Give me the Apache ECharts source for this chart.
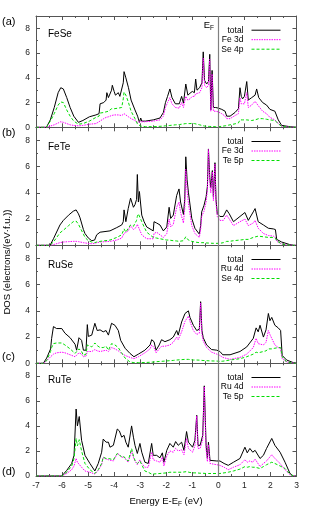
<!DOCTYPE html>
<html><head><meta charset="utf-8">
<script src="https://cdn.jsdelivr.net/npm/echarts@6/dist/echarts.min.js"></script>
<style>html,body{margin:0;padding:0;background:#fff}#c{width:314px;height:513px}</style>
</head><body><div id="c"></div>
<script>
const FONT = '"Liberation Sans", Arial, Helvetica, sans-serif';
const xTickLabels = [-7,-6,-5,-4,-3,-2,-1,0,1,2,3];
const yTickLabels = [0,2,4,6,8];
const panelNames = ['FeSe','FeTe','RuSe','RuTe'];
const panelLetters = ['(a)','(b)','(c)','(d)'];
const seriesNames = [['total','Fe 3d','Se 4p'],['total','Fe 3d','Te 5p'],['total','Ru 4d','Se 4p'],['total','Ru 4d','Te 5p']];

// (a) FeSe
const energyFeSe = [-7.0,-6.6,-6.45,-6.3,-6.15,-6.05,-5.95,-5.82,-5.69,-5.55,
 -5.37,-5.2,-4.95,-4.7,-4.58,-4.54,-4.4,-4.31,-4.28,-4.22,
 -4.1,-4.07,-4.0,-3.95,-3.84,-3.78,-3.71,-3.65,-3.62,-3.55,
 -3.45,-3.35,-3.2,-3.1,-3.03,-2.98,-2.94,-2.8,-2.5,-2.24,
 -2.11,-2.03,-1.95,-1.86,-1.78,-1.65,-1.5,-1.41,-1.34,-1.25,
 -1.17,-1.09,-1.0,-0.92,-0.87,-0.82,-0.72,-0.63,-0.58,-0.53,
 -0.45,-0.38,-0.33,-0.29,-0.24,-0.19,-0.1,0.0,0.13,0.26,
 0.32,0.45,0.64,0.77,0.83,0.88,0.93,1.0,1.09,1.15,
 1.28,1.41,1.47,1.55,1.7,1.85,1.98,2.17,2.3,2.43,
 2.75,3.0];
const totalFeSe = [0,0,0.6,1.6,2.8,3.2,3.1,2.4,1.6,0.9,
 0.4,0.55,0.85,1.0,1.1,1.9,2.0,2.2,2.8,2.4,
 3.0,3.4,2.9,2.6,2.8,2.5,2.5,3.6,4.5,4.0,
 3.2,2.2,1.4,0.9,0.4,0.75,0.5,0.5,0.6,0.75,
 1.2,2.0,2.5,3.1,2.4,1.9,1.9,2.5,1.95,3.5,
 2.6,2.75,2.9,2.8,3.9,3.0,3.2,3.6,6.1,3.8,
 3.5,3.7,5.9,1.4,4.6,1.6,1.6,1.55,1.45,1.3,
 0.9,0.9,1.2,1.5,3.2,2.5,2.3,2.5,3.7,2.2,
 2.4,2.6,3.1,2.4,2.0,1.8,1.45,1.3,0.6,0.15,
 0.05,0];
const fe3dFeSe = [0,0,0.1,0.2,0.35,0.45,0.4,0.3,0.2,0.15,
 0.12,0.15,0.25,0.3,0.45,0.6,0.7,0.8,0.9,0.85,
 0.95,1.0,1.0,0.95,1.0,0.95,0.95,1.05,1.1,1.0,
 0.85,0.7,0.55,0.4,0.3,0.45,0.4,0.45,0.5,0.6,
 0.9,1.6,2.0,2.4,1.9,1.6,1.55,2.0,1.6,2.5,
 2.2,2.3,2.5,2.5,2.7,2.7,2.8,3.2,5.6,3.4,
 3.2,3.4,5.5,1.3,4.3,1.3,1.3,1.25,1.1,0.9,
 0.7,0.7,0.95,1.1,2.4,1.9,1.8,1.9,2.8,1.6,
 1.8,2.1,2.2,1.7,1.3,1.1,0.8,0.6,0.3,0.08,
 0.02,0];
const se4pFeSe = [0,0,0.5,1.1,1.8,2.05,2.0,1.4,0.9,0.5,
 0.25,0.3,0.5,0.8,0.9,1.15,1.2,1.25,1.3,1.3,
 1.5,1.65,1.5,1.4,1.55,1.45,1.6,2.3,2.85,2.6,
 2.0,1.3,0.7,0.25,0.12,0.1,0.08,0.05,0.05,0.08,
 0.1,0.12,0.14,0.15,0.17,0.2,0.22,0.25,0.25,0.3,
 0.3,0.3,0.32,0.3,0.28,0.25,0.2,0.15,0.12,0.1,
 0.08,0.07,0.07,0.06,0.06,0.06,0.05,0.05,0.08,0.12,
 0.15,0.2,0.28,0.35,0.6,0.6,0.6,0.55,0.6,0.55,
 0.55,0.6,0.7,0.7,0.7,0.65,0.6,0.55,0.3,0.07,
 0.02,0];

// (b) FeTe
const energyFeTe = [-7.0,-6.46,-6.33,-6.08,-5.95,-5.75,-5.57,-5.46,-5.37,-5.31,
 -5.18,-5.12,-4.99,-4.86,-4.75,-4.67,-4.54,-4.16,-3.9,-3.71,
 -3.65,-3.62,-3.55,-3.46,-3.37,-3.26,-3.2,-3.14,-3.11,-3.07,
 -3.03,-2.94,-2.85,-2.75,-2.5,-2.47,-2.37,-2.24,-2.11,-1.98,
 -1.89,-1.83,-1.73,-1.6,-1.51,-1.45,-1.34,-1.29,-1.25,-1.2,
 -1.15,-1.02,-0.9,-0.73,-0.68,-0.64,-0.55,-0.47,-0.42,-0.38,
 -0.33,-0.29,-0.23,-0.19,-0.13,-0.09,-0.04,0.06,0.19,0.32,
 0.42,0.58,0.83,1.02,1.15,1.34,1.41,1.53,1.73,1.92,
 2.11,2.19,2.24,2.43,2.75,2.9,3.0];
const totalFeTe = [0,0,0.5,1.55,1.9,2.3,2.6,2.7,2.4,2.1,
 1.2,0.9,0.55,0.35,0.4,0.8,1.0,1.1,1.35,1.55,
 1.8,2.7,1.8,2.8,3.6,2.9,3.1,3.5,5.4,3.3,
 4.1,2.3,1.8,1.4,1.1,1.8,1.7,1.55,1.1,1.4,
 2.9,2.05,2.3,3.8,4.3,3.3,2.35,3.5,6.75,5.0,
 4.05,2.05,1.3,0.85,1.5,2.55,3.05,3.7,4.5,7.35,
 5.2,4.4,5.7,3.7,6.3,3.5,2.4,2.2,2.2,2.7,
 2.4,1.8,2.2,2.5,1.9,2.55,2.8,1.8,1.55,1.3,
 1.25,1.2,0.45,0.25,0.05,0,0];
const fe3dFeTe = [0,0,0.05,0.2,0.25,0.28,0.3,0.3,0.28,0.25,
 0.2,0.18,0.14,0.12,0.15,0.2,0.25,0.3,0.4,0.55,
 0.7,0.9,0.8,1.1,1.5,1.2,1.3,1.4,1.6,1.4,
 1.3,0.8,0.65,0.5,0.5,0.9,1.0,0.8,0.6,0.9,
 2.0,1.4,1.6,2.9,3.3,2.5,1.7,2.8,5.8,4.2,
 3.2,1.5,0.9,0.6,1.2,2.2,2.6,3.3,4.2,7.3,
 4.8,4.0,5.6,3.4,6.2,3.2,2.2,1.9,1.9,2.3,
 2.0,1.5,1.8,2.0,1.5,1.7,1.9,1.3,0.9,0.75,
 0.7,0.6,0.3,0.1,0.02,0,0];
const te5pFeTe = [0,0,0.25,0.95,1.15,1.5,1.8,1.85,1.6,1.5,
 0.85,0.6,0.35,0.25,0.2,0.25,0.3,0.4,0.6,0.8,
 0.9,1.25,1.0,1.3,1.55,1.45,1.6,1.9,2.2,2.4,
 2.3,1.8,1.4,1.0,0.6,0.6,0.55,0.5,0.45,0.4,
 0.4,0.38,0.35,0.33,0.3,0.3,0.35,0.45,0.65,0.55,
 0.4,0.3,0.25,0.2,0.2,0.2,0.2,0.18,0.17,0.17,
 0.16,0.16,0.15,0.15,0.15,0.15,0.15,0.15,0.2,0.3,
 0.3,0.35,0.4,0.45,0.45,0.6,0.75,0.7,0.65,0.6,
 0.6,0.55,0.35,0.1,0.01,0,0];

// (c) RuSe
const energyRuSe = [-7.0,-6.72,-6.59,-6.44,-6.4,-6.33,-6.21,-6.01,-5.89,-5.82,
 -5.69,-5.63,-5.5,-5.44,-5.35,-5.25,-5.18,-5.08,-5.03,-4.99,
 -4.86,-4.74,-4.65,-4.54,-4.42,-4.31,-4.22,-4.1,-3.97,-3.9,
 -3.84,-3.75,-3.58,-3.39,-3.24,-3.07,-2.82,-2.62,-2.56,-2.47,
 -2.39,-2.27,-2.18,-2.05,-1.86,-1.73,-1.6,-1.54,-1.41,-1.28,
 -1.15,-1.09,-0.96,-0.83,-0.73,-0.68,-0.63,-0.58,-0.45,-0.26,
 -0.06,0.06,0.17,0.45,0.83,1.09,1.34,1.45,1.53,1.6,
 1.73,1.83,1.92,1.98,2.05,2.17,2.3,2.39,2.45,2.62,
 2.88,3.0];
const totalRuSe = [0,0,0.4,1.1,1.9,2.8,2.65,2.65,2.3,2.2,
 1.95,1.8,1.45,1.0,1.95,1.75,1.0,1.0,2.95,2.05,
 2.15,3.05,2.5,2.55,2.4,2.5,2.15,3.05,2.9,3.0,
 2.5,1.75,1.15,0.75,0.5,0.7,1.0,1.4,1.8,1.65,
 1.0,1.4,1.8,1.65,1.8,2.0,2.5,2.15,3.15,3.8,
 4.0,3.5,2.9,2.5,2.6,4.7,2.5,1.95,1.4,1.05,
 1.0,0.9,0.65,0.65,0.9,1.25,1.9,2.7,2.4,2.9,
 2.0,2.55,3.8,3.25,3.5,2.9,2.7,2.5,0.6,0.25,
 0.05,0.02];
const ru4dRuSe = [0,0,0.2,0.5,0.6,0.7,0.8,0.85,0.8,0.75,
 0.65,0.6,0.5,0.45,0.8,0.7,0.5,0.55,0.9,0.85,
 0.9,1.05,0.95,0.9,0.95,1.0,0.9,1.2,1.1,1.05,
 0.95,0.8,0.6,0.45,0.35,0.5,0.8,1.1,1.4,1.2,
 0.8,1.1,1.3,1.3,1.4,1.6,2.0,1.8,2.4,3.2,
 3.6,3.2,2.5,2.2,2.3,4.6,2.2,1.7,1.2,0.85,
 0.7,0.6,0.45,0.3,0.45,0.7,1.2,1.9,1.5,1.6,
 1.4,1.6,2.5,2.2,1.9,1.4,1.2,1.1,0.35,0.1,
 0.02,0];
const se4pRuSe = [0,0,0.2,0.9,1.2,1.5,1.55,1.55,1.4,1.3,
 1.1,1.0,0.75,0.6,1.1,0.9,0.6,0.7,1.4,1.3,
 1.25,1.55,1.35,1.2,1.2,1.3,1.0,1.5,1.4,1.45,
 1.2,0.9,0.4,0.1,0.05,0.05,0.06,0.08,0.09,0.1,
 0.12,0.14,0.15,0.17,0.2,0.22,0.25,0.26,0.28,0.3,
 0.3,0.28,0.25,0.25,0.24,0.23,0.22,0.22,0.2,0.18,
 0.17,0.15,0.16,0.25,0.35,0.5,0.7,0.85,0.8,0.85,
 0.9,0.95,1.1,1.1,1.1,1.15,1.2,1.2,0.5,0.1,
 0.01,0];

// (d) RuTe
const energyRuTe = [-7.0,-6.01,-5.95,-5.82,-5.63,-5.54,-5.46,-5.41,-5.34,-5.25,
 -5.12,-4.93,-4.74,-4.61,-4.48,-4.42,-4.31,-4.22,-4.16,-4.03,
 -3.88,-3.8,-3.71,-3.62,-3.55,-3.46,-3.33,-3.26,-3.2,-3.11,
 -3.01,-2.94,-2.82,-2.69,-2.56,-2.5,-2.37,-2.24,-2.15,-2.09,
 -1.98,-1.86,-1.73,-1.64,-1.54,-1.41,-1.32,-1.22,-1.15,-1.09,
 -0.99,-0.9,-0.83,-0.78,-0.7,-0.6,-0.54,-0.47,-0.42,-0.38,
 -0.32,-0.06,0.06,0.22,0.38,0.58,0.83,1.02,1.11,1.21,
 1.32,1.41,1.6,1.73,1.85,2.05,2.17,2.37,2.56,2.75,
 2.88,3.0];
const totalRuTe = [0,0,0.1,0.45,1.0,1.65,5.35,4.0,4.75,2.85,
 1.65,1.0,0.4,1.0,1.9,2.95,2.7,2.7,2.3,2.45,
 3.75,3.6,3.1,3.25,2.7,2.3,4.0,3.1,2.45,1.8,
 2.6,1.9,1.1,1.0,2.6,1.65,1.65,1.45,1.85,1.1,
 2.05,2.6,2.3,2.75,2.45,2.7,2.05,3.55,2.7,2.85,
 2.3,2.85,4.85,2.45,2.45,3.25,7.2,2.45,1.4,2.7,
 1.25,1.2,1.2,1.0,0.85,1.1,1.4,2.3,1.85,2.2,
 1.9,2.05,1.4,1.65,2.2,3.0,2.45,1.9,1.1,0.2,
 0,0];
const ru4dRuTe = [0,0,0.05,0.2,0.5,0.8,1.4,1.1,1.2,0.7,
 0.4,0.3,0.15,0.45,0.9,1.5,1.35,1.3,1.15,1.2,
 1.8,1.7,1.5,1.5,1.3,1.1,2.0,1.5,1.2,0.9,
 1.3,1.0,0.7,0.7,1.9,1.3,1.2,1.1,1.5,0.8,
 1.6,2.0,1.9,2.2,2.0,2.1,1.7,3.0,2.2,2.3,
 1.9,2.4,4.8,2.2,2.2,2.9,7.15,2.1,1.15,2.5,
 1.0,0.9,0.85,0.7,0.5,0.7,0.9,1.3,1.1,1.2,
 1.1,1.35,0.75,1.0,1.2,1.7,1.4,1.0,0.5,0.1,
 0,0];
const te5pRuTe = [0,0,0.05,0.3,0.8,1.4,3.0,2.4,2.9,2.0,
 1.0,0.5,0.2,0.5,1.0,1.5,1.4,1.4,1.25,1.3,
 1.8,1.7,1.5,1.55,1.35,1.2,2.2,1.6,1.25,1.0,
 1.2,0.9,0.4,0.3,0.15,0.15,0.18,0.2,0.22,0.23,
 0.25,0.3,0.3,0.3,0.3,0.3,0.32,0.35,0.3,0.28,
 0.25,0.25,0.25,0.24,0.22,0.22,0.21,0.2,0.2,0.2,
 0.2,0.2,0.2,0.25,0.3,0.4,0.55,0.75,0.7,0.75,
 0.7,0.7,0.6,0.75,0.9,1.1,1.0,0.8,0.6,0.15,
 0,0];

const panelData = [
  {E: energyFeSe, vals: [totalFeSe, fe3dFeSe, se4pFeSe]},
  {E: energyFeTe, vals: [totalFeTe, fe3dFeTe, te5pFeTe]},
  {E: energyRuSe, vals: [totalRuSe, ru4dRuSe, se4pRuSe]},
  {E: energyRuTe, vals: [totalRuTe, ru4dRuTe, te5pRuTe]}
];

// layout
const gridTops = [16, 127.3, 245.3, 363.3];
const gridHeights = [111.3, 118, 118, 112.7];
const letterY = [22, 133, 357, 472];
const nameY = [34, 147, 265, 380];
const AXC = '#555';
const lineStyles = [
  {color:'#000000', width:1, type:'solid'},
  {color:'#ff00ff', width:1, type:[1.5,1]},
  {color:'#00dd00', width:1, type:[3,2]}
];

const grids = [], xAxes = [], yAxes = [], series = [], legends = [], graphics = [];
for (let i = 0; i < 4; i++) {
  grids.push({left:36, right:17.5, top:gridTops[i], height:gridHeights[i], containLabel:false, outerBoundsMode:'none'});
  ['bottom','top'].forEach((pos, k) => {
    xAxes.push({type:'value', gridIndex:i, position:pos, min:-7, max:3, interval:1,
      axisLine:{show:true, onZero:false, lineStyle:{color:AXC, width:1}},
      axisTick:{show:true, inside:true, length:4, lineStyle:{color:AXC, width:1}},
      minorTick:{show:true, splitNumber:2, length:2, lineStyle:{color:AXC, width:1}},
      splitLine:{show:false}, minorSplitLine:{show:false},
      axisLabel:{show: (i === 3 && k === 0), margin:5, fontSize:8.5, color:'#222', fontFamily:FONT,
        formatter: v => xTickLabels.indexOf(v) >= 0 ? String(v) : ''}
    });
  });
  ['left','right'].forEach((pos, k) => {
    yAxes.push({type:'value', gridIndex:i, position:pos, min:0, max:9, interval:2,
      axisLine:{show:true, onZero:false, lineStyle:{color:AXC, width:1}},
      axisTick:{show:true, inside:true, length:4, lineStyle:{color:AXC, width:1}},
      minorTick:{show:true, splitNumber:2, length:2, lineStyle:{color:AXC, width:1}},
      splitLine:{show:false}, minorSplitLine:{show:false},
      axisLabel:{show: k === 0, margin:6, fontSize:8.5, color:'#222', fontFamily:FONT, showMaxLabel:false,
        formatter: v => yTickLabels.indexOf(v) >= 0 ? String(v) : ''}
    });
  });
  const pd = panelData[i];
  for (let s = 0; s < 3; s++) {
    const ser = {type:'line', name: seriesNames[i][s], xAxisIndex: 2*i, yAxisIndex: 2*i,
      data: pd.E.map((e, k) => [e, pd.vals[s][k]]), symbol:'none', showSymbol:false,
      lineStyle: lineStyles[s], itemStyle:{color: lineStyles[s].color}, z: 2 + s,
      animation:false, silent:true, clip:true};
    if (s === 0) {
      ser.markLine = {silent:true, symbol:['none','none'], animation:false, label:{show:false},
        lineStyle:{color:'#808080', width:1.2, type:'solid'}, emphasis:{disabled:true},
        data:[{xAxis:0}]};
    }
    series.push(ser);
  }
  legends.push({data: seriesNames[i], orient:'vertical', right:28, top: gridTops[i] + 4.7,
    align:'right', itemWidth:29, itemHeight:9, itemGap:0.5, selectedMode:false,
    itemStyle:{opacity:0, borderWidth:0},
    lineStyle:{width:1},
    textStyle:{fontSize:8.5, fontFamily:FONT, color:'#000', lineHeight:9, padding:[0,3,0,0]}});
  graphics.push({type:'text', x:2, y:letterY[i], silent:true,
    style:{text: panelLetters[i], font:'11px ' + FONT, fill:'#000', textAlign:'left', textVerticalAlign:'middle'}});
  graphics.push({type:'text', x:48, y:nameY[i], silent:true,
    style:{text: panelNames[i], font:'10px ' + FONT, fill:'#000', textAlign:'left', textVerticalAlign:'middle'}});
}
graphics.push({type:'text', x:214, y:25, silent:true,
  style:{text:'{n|E}{s|F}', textAlign:'right', textVerticalAlign:'middle', fill:'#000',
    rich:{n:{fontSize:9.5, fontFamily:FONT, lineHeight:13, verticalAlign:'middle'},
          s:{fontSize:6.5, fontFamily:FONT, lineHeight:13, verticalAlign:'bottom'}}}});
graphics.push({type:'text', x:166, y:501, silent:true,
  style:{text:'{n|Energy E-E}{s|F}{n| (eV)}', textAlign:'center', textVerticalAlign:'middle', fill:'#000',
    rich:{n:{fontSize:9.5, fontFamily:FONT, lineHeight:14, verticalAlign:'middle'},
          s:{fontSize:6.5, fontFamily:FONT, lineHeight:14, verticalAlign:'bottom'}}}});
graphics.push({type:'text', x:7, y:262, rotation: Math.PI/2, silent:true,
  style:{text:'DOS (electrons/(eV\u00b7f.u.))', font:'9.5px ' + FONT, fill:'#000', textAlign:'center', textVerticalAlign:'middle'}});

const chart = echarts.init(document.getElementById('c'), null, {renderer:'canvas'});
chart.setOption({
  animation:false,
  backgroundColor:'#fff',
  grid: grids, xAxis: xAxes, yAxis: yAxes, series: series, legend: legends, graphic: graphics,
  tooltip:{show:false}
});
</script></body></html>
